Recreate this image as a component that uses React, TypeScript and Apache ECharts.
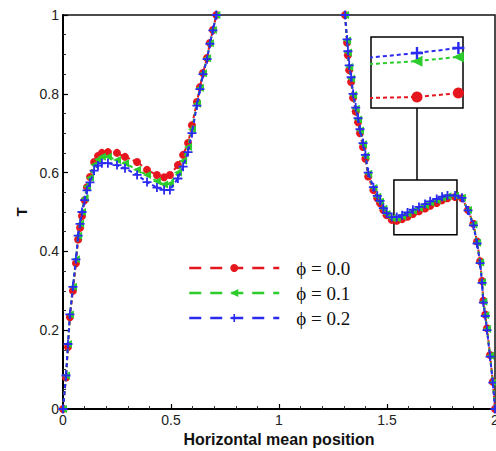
import { useEffect, useRef } from 'react';
import * as echarts from 'echarts';

// ---- data ----
const xLeft = [0, 0.014, 0.023, 0.032, 0.046, 0.06, 0.07, 0.079, 0.088, 0.1, 0.111, 0.125, 0.144, 0.162, 0.18, 0.208, 0.25, 0.287, 0.343, 0.389, 0.435, 0.468, 0.495, 0.532, 0.556, 0.579, 0.597, 0.62, 0.634, 0.648, 0.667, 0.68, 0.694, 0.71];
const redLeft = [0, 0.08, 0.157, 0.233, 0.30, 0.37, 0.43, 0.46, 0.49, 0.53, 0.563, 0.589, 0.627, 0.642, 0.65, 0.652, 0.65, 0.64, 0.627, 0.607, 0.594, 0.588, 0.594, 0.619, 0.645, 0.675, 0.72, 0.779, 0.817, 0.853, 0.891, 0.929, 0.962, 1.0];
const greenLeft = [0, 0.085, 0.165, 0.24, 0.31, 0.38, 0.44, 0.47, 0.50, 0.535, 0.565, 0.587, 0.62, 0.633, 0.64, 0.64, 0.632, 0.624, 0.607, 0.594, 0.578, 0.57, 0.572, 0.60, 0.63, 0.665, 0.71, 0.775, 0.815, 0.852, 0.89, 0.928, 0.962, 1.0];
const blueLeft = [0, 0.085, 0.165, 0.24, 0.31, 0.38, 0.44, 0.47, 0.50, 0.53, 0.555, 0.575, 0.605, 0.618, 0.624, 0.624, 0.619, 0.611, 0.594, 0.576, 0.562, 0.556, 0.556, 0.585, 0.615, 0.652, 0.70, 0.77, 0.812, 0.85, 0.888, 0.927, 0.961, 1.0];

const xRight = [1.306, 1.315, 1.319, 1.325, 1.334, 1.343, 1.355, 1.366, 1.375, 1.389, 1.40, 1.413, 1.437, 1.455, 1.468, 1.483, 1.498, 1.522, 1.545, 1.57, 1.595, 1.62, 1.648, 1.676, 1.70, 1.73, 1.755, 1.78, 1.815, 1.847, 1.875, 1.90, 1.917, 1.931, 1.94, 1.946, 1.955, 1.963, 1.977, 1.99, 2.0];
const redRight = [1.0, 0.93, 0.898, 0.86, 0.83, 0.79, 0.755, 0.728, 0.70, 0.665, 0.635, 0.59, 0.556, 0.535, 0.522, 0.505, 0.492, 0.48, 0.478, 0.482, 0.488, 0.495, 0.502, 0.509, 0.516, 0.523, 0.53, 0.535, 0.538, 0.535, 0.505, 0.47, 0.425, 0.375, 0.325, 0.275, 0.24, 0.205, 0.137, 0.069, 0.0];
const greenRight = [1.0, 0.935, 0.905, 0.868, 0.838, 0.797, 0.762, 0.735, 0.707, 0.672, 0.642, 0.597, 0.561, 0.539, 0.526, 0.508, 0.495, 0.484, 0.484, 0.489, 0.496, 0.503, 0.51, 0.517, 0.524, 0.53, 0.536, 0.54, 0.541, 0.536, 0.505, 0.468, 0.422, 0.372, 0.322, 0.272, 0.238, 0.203, 0.135, 0.068, 0.0];
const blueRight = [1.0, 0.938, 0.908, 0.872, 0.842, 0.80, 0.765, 0.738, 0.71, 0.675, 0.645, 0.60, 0.563, 0.541, 0.528, 0.51, 0.497, 0.487, 0.487, 0.492, 0.499, 0.506, 0.513, 0.52, 0.527, 0.533, 0.539, 0.542, 0.542, 0.536, 0.504, 0.466, 0.42, 0.37, 0.32, 0.27, 0.236, 0.2, 0.133, 0.067, 0.0];

// magnified inset
const insetX = [1.75, 1.78, 1.798, 1.81];
const insetRed = [0.5277, 0.5281, 0.5292, 0.5295];
const insetGreen = [0.537, 0.5382, 0.5394, 0.5398];
const insetBlue = [0.5386, 0.5405, 0.5419, 0.5424];

// zoom box [x0, y0, x1, y1] and connector x / bottom / top
const zoomBox = [1.532, 0.581, 1.824, 0.442];
const connector = [1.639, 0.581, 0.764];

const seriesNames = ['ϕ = 0.0', 'ϕ = 0.1', 'ϕ = 0.2'];
const xTicks = { min: 0, max: 2, interval: 0.5 };
const yTicks = { min: 0, max: 1, interval: 0.2 };

const RED = '#e5161d';
const GREEN = '#2ccc2c';
const BLUE = '#2a2af0';
const PLUS = 'path://M4,0H6V4H10V6H6V10H4V6H0V4H4Z';

function pairs(xs: number[], ys: number[]) {
  return xs.map((x, i) => [x, ys[i]]);
}
function curve(left: number[], right: number[]) {
  return [...pairs(xLeft, left), [1.0, null], ...pairs(xRight, right)];
}
function insetData(ys: number[]) {
  return insetX.map((x, i) => {
    const edge = i === 0 || i === insetX.length - 1;
    return edge ? { value: [x, ys[i]], symbol: 'none' } : { value: [x, ys[i]] };
  });
}

export default function App() {
  const ref = useRef<HTMLDivElement>(null);
  useEffect(() => {
    document.body.style.margin = '0';
    const chart = echarts.init(ref.current!, null, { renderer: 'svg' });
    const font = 'Liberation Sans, Arial, sans-serif';
    const labelStyle = { color: '#222', fontSize: 14, fontFamily: font };
    const mainLine = (color: string) => ({ type: [4, 3], width: 2, color });
    const styles = [
      { color: RED, symbol: 'circle', size: 8, rotate: 0 },
      { color: GREEN, symbol: 'triangle', size: 8, rotate: 90 },
      { color: BLUE, symbol: PLUS, size: 9, rotate: 0 },
    ];
    const curves = [curve(redLeft, redRight), curve(greenLeft, greenRight), curve(blueLeft, blueRight)];
    const insets = [insetRed, insetGreen, insetBlue];

    const main = curves.map((d, i) => ({
      name: seriesNames[i],
      type: 'line',
      xAxisIndex: 0,
      yAxisIndex: 0,
      data: d,
      symbol: styles[i].symbol,
      symbolSize: styles[i].size,
      symbolRotate: styles[i].rotate,
      showAllSymbol: true,
      connectNulls: false,
      lineStyle: mainLine(styles[i].color),
      itemStyle: { color: styles[i].color },
      clip: true,
      z: 2 + i,
      ...(i === 0
        ? {
            markArea: {
              silent: true,
              itemStyle: { color: 'rgba(0,0,0,0)', borderColor: '#000', borderWidth: 1.5 },
              label: { show: false },
              data: [[{ coord: [zoomBox[0], zoomBox[1]] }, { coord: [zoomBox[2], zoomBox[3]] }]],
            },
            markLine: {
              silent: true,
              symbol: ['none', 'none'],
              label: { show: false },
              lineStyle: { color: '#000', type: 'solid', width: 1.5 },
              data: [[{ coord: [connector[0], connector[1]] }, { coord: [connector[0], connector[2]] }]],
            },
          }
        : {}),
    }));

    const inset = insets.map((ys, i) => ({
      name: 'inset' + i,
      type: 'line',
      xAxisIndex: 1,
      yAxisIndex: 1,
      data: insetData(ys),
      symbol: styles[i].symbol,
      symbolSize: styles[i].size + 3,
      symbolRotate: styles[i].rotate,
      lineStyle: mainLine(styles[i].color),
      itemStyle: { color: styles[i].color },
      clip: true,
      z: 5 + i,
    }));

    chart.setOption({
      animation: false,
      backgroundColor: '#fff',
      grid: [
        { left: 63, right: 1, top: 15, bottom: 42, outerBoundsMode: 'none', containLabel: false, show: true, borderColor: '#111', borderWidth: 1.5, backgroundColor: 'rgba(0,0,0,0)' },
        { left: 371, top: 37, width: 92, height: 71, outerBoundsMode: 'none', containLabel: false, show: true, borderColor: '#000', borderWidth: 1.5, backgroundColor: '#fff' },
      ],
      xAxis: [
        {
          type: 'value',
          gridIndex: 0,
          ...xTicks,
          axisLine: { lineStyle: { color: '#000', width: 2 } },
          axisTick: { inside: true, length: 5, lineStyle: { color: '#000', width: 1.2 } },
          minorTick: { show: true, splitNumber: 5, length: 3, lineStyle: { color: '#333', width: 1 } },
          splitLine: { show: false },
          axisLabel: { ...labelStyle, margin: 4 },
          name: 'Horizontal mean position',
          nameLocation: 'middle',
          nameGap: 17,
          nameTextStyle: { fontWeight: 'bold', fontSize: 16, fontFamily: font, color: '#111' },
        },
        { type: 'value', gridIndex: 1, min: 1.76, max: 1.8, show: false },
      ],
      yAxis: [
        {
          type: 'value',
          gridIndex: 0,
          ...yTicks,
          axisLine: { lineStyle: { color: '#000', width: 2 } },
          axisTick: { inside: true, length: 5, lineStyle: { color: '#000', width: 1.2 } },
          minorTick: { show: true, splitNumber: 4, length: 3, lineStyle: { color: '#333', width: 1 } },
          splitLine: { show: false },
          axisLabel: { ...labelStyle, margin: 4 },
          name: 'T',
          nameLocation: 'middle',
          nameGap: 33,
          nameTextStyle: { fontWeight: 'bold', fontSize: 15, fontFamily: font, color: '#111' },
        },
        { type: 'value', gridIndex: 1, min: 0.525, max: 0.545, show: false },
      ],
      legend: {
        orient: 'vertical',
        left: 188,
        top: 258,
        padding: 0,
        itemWidth: 90,
        itemHeight: 10,
        itemGap: 5,
        selectedMode: false,
        textStyle: { fontFamily: 'Liberation Serif, Times New Roman, serif', fontSize: 19, lineHeight: 20, color: '#111', padding: [0, 0, 0, 12] },
        data: seriesNames.map((n) => ({ name: n, lineStyle: { type: [12, 9], width: 2.5 } })),
      },
      series: [...main, ...inset],
    });
    return () => chart.dispose();
  }, []);
  return <div ref={ref} style={{ width: 496, height: 451 }} />;
}
